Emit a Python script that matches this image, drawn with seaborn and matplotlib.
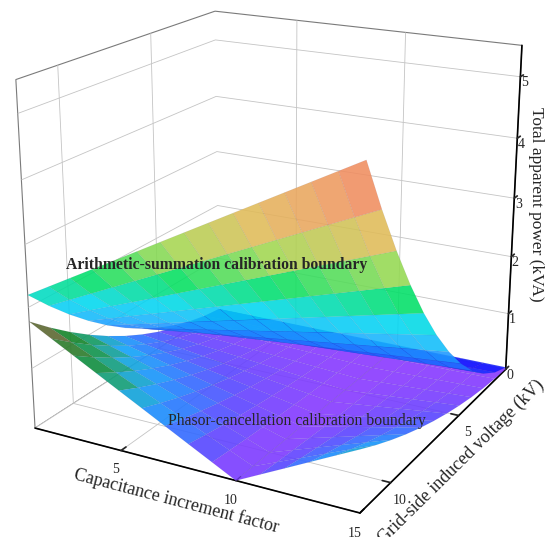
import numpy as np
import pandas as pd
import seaborn as sns
import matplotlib
matplotlib.use("Agg")
import matplotlib.pyplot as plt
from matplotlib.colors import Normalize

# ---------------- data ----------------
k_values = [1, 2, 3, 4, 5, 6, 7, 8, 9, 10, 11, 12, 13, 14, 15]          # capacitance increment factor
voltage_values = [1, 2, 3, 4, 5, 6, 7, 8, 9, 10, 11, 12]                 # grid-side induced voltage (kV)

# Arithmetic-summation boundary, rows = voltage, cols = k  (kVA)
arith_power = [
    [0.015, 0.017, 0.018, 0.020, 0.021, 0.022, 0.024, 0.025, 0.027, 0.028, 0.030, 0.031, 0.033, 0.034, 0.035],
    [0.061, 0.067, 0.073, 0.078, 0.084, 0.090, 0.096, 0.101, 0.107, 0.113, 0.119, 0.125, 0.130, 0.136, 0.142],
    [0.137, 0.150, 0.163, 0.176, 0.189, 0.202, 0.215, 0.228, 0.241, 0.254, 0.267, 0.280, 0.293, 0.306, 0.319],
    [0.244, 0.267, 0.290, 0.313, 0.336, 0.359, 0.382, 0.405, 0.428, 0.451, 0.474, 0.497, 0.520, 0.543, 0.566],
    [0.382, 0.418, 0.454, 0.490, 0.526, 0.562, 0.598, 0.634, 0.670, 0.706, 0.742, 0.778, 0.814, 0.850, 0.886],
    [0.550, 0.602, 0.653, 0.705, 0.757, 0.809, 0.861, 0.912, 0.964, 1.016, 1.068, 1.119, 1.171, 1.223, 1.275],
    [0.748, 0.819, 0.889, 0.960, 1.030, 1.101, 1.171, 1.242, 1.312, 1.383, 1.453, 1.524, 1.594, 1.665, 1.735],
    [0.977, 1.069, 1.161, 1.253, 1.345, 1.437, 1.529, 1.621, 1.713, 1.805, 1.897, 1.989, 2.081, 2.173, 2.265],
    [1.237, 1.353, 1.470, 1.586, 1.703, 1.819, 1.936, 2.052, 2.169, 2.285, 2.402, 2.518, 2.635, 2.751, 2.868],
    [1.527, 1.671, 1.815, 1.958, 2.102, 2.246, 2.390, 2.534, 2.677, 2.821, 2.965, 3.109, 3.253, 3.396, 3.540],
    [1.848, 2.022, 2.196, 2.370, 2.544, 2.718, 2.892, 3.066, 3.240, 3.414, 3.588, 3.762, 3.936, 4.110, 4.284],
    [2.199, 2.406, 2.613, 2.820, 3.027, 3.234, 3.442, 3.649, 3.856, 4.063, 4.270, 4.477, 4.684, 4.891, 5.098],
]

# Phasor-cancellation boundary, rows = voltage, cols = k  (kVA)
phasor_power = [
    [0.012, 0.011, 0.010, 0.008, 0.007, 0.005, 0.004, 0.003, 0.001, 0.0, 0.001, 0.003, 0.004, 0.005, 0.007],
    [0.049, 0.044, 0.038, 0.033, 0.027, 0.022, 0.016, 0.011, 0.005, 0.0, 0.005, 0.011, 0.016, 0.022, 0.027],
    [0.111, 0.098, 0.086, 0.074, 0.061, 0.049, 0.037, 0.025, 0.012, 0.0, 0.012, 0.025, 0.037, 0.049, 0.061],
    [0.197, 0.175, 0.153, 0.131, 0.109, 0.087, 0.066, 0.044, 0.022, 0.0, 0.022, 0.044, 0.066, 0.087, 0.109],
    [0.307, 0.273, 0.239, 0.205, 0.171, 0.137, 0.102, 0.068, 0.034, 0.0, 0.034, 0.068, 0.102, 0.137, 0.171],
    [0.443, 0.393, 0.344, 0.295, 0.246, 0.197, 0.148, 0.098, 0.049, 0.0, 0.049, 0.098, 0.148, 0.197, 0.246],
    [0.602, 0.535, 0.469, 0.402, 0.335, 0.268, 0.201, 0.134, 0.067, 0.0, 0.067, 0.134, 0.201, 0.268, 0.335],
    [0.787, 0.699, 0.612, 0.524, 0.437, 0.350, 0.262, 0.175, 0.087, 0.0, 0.087, 0.175, 0.262, 0.350, 0.437],
    [0.996, 0.885, 0.775, 0.664, 0.553, 0.443, 0.332, 0.221, 0.111, 0.0, 0.111, 0.221, 0.332, 0.443, 0.553],
    [1.229, 1.092, 0.956, 0.819, 0.683, 0.546, 0.410, 0.273, 0.137, 0.0, 0.137, 0.273, 0.410, 0.546, 0.683],
    [1.487, 1.322, 1.157, 0.992, 0.826, 0.661, 0.496, 0.330, 0.165, 0.0, 0.165, 0.330, 0.496, 0.661, 0.826],
    [1.770, 1.573, 1.377, 1.180, 0.983, 0.787, 0.590, 0.393, 0.197, 0.0, 0.197, 0.393, 0.590, 0.787, 0.983],
]

x_ticks = [5, 10, 15]
y_ticks = [5, 10]
z_ticks = [0, 1, 2, 3, 4, 5]

label_x = "Capacitance increment factor"
label_y = "Grid-side induced voltage (kV)"
label_z = "Total apparent power (kVA)"
label_arith = "Arithmetic-summation calibration boundary"
label_phasor = "Phasor-cancellation calibration boundary"

# ---------------- style ----------------
sns.set_theme(style="white", rc={"grid.color": "#c4c4c4", "grid.linewidth": 0.6})
plt.rcParams["font.family"] = ["Liberation Serif", "DejaVu Serif"]

upper_cmap = sns.blend_palette(
    ["#1010ff", "#2468ff", "#18b0ff", "#00d8f0", "#00e060", "#a0d850",
     "#e0bc58", "#ee9860", "#f8645a"], as_cmap=True)
lower_cmap = sns.blend_palette(
    ["#8a38ff", "#5a44ff", "#2874ff", "#10a4f8", "#109c6c", "#0e8628",
     "#5c6a30", "#6a5040"], as_cmap=True)

X, Y = np.meshgrid(np.array(k_values, float), np.array(voltage_values, float))
Zu = np.array(arith_power)
Zl = np.array(phasor_power)

fig = plt.figure(figsize=(5.5, 5.37), dpi=100)
ax = fig.add_axes([-0.066, -0.014, 1.12, 1.12], projection="3d", computed_zorder=False)
ax.view_init(elev=19.3, azim=-61.4)
ax.set_proj_type("persp", focal_length=0.5)
ax.set_box_aspect((1, 1, 0.99), zoom=1.0)

ax.plot_surface(X, Y, Zl, cmap=lower_cmap, norm=Normalize(0, Zl.max()),
                rstride=1, cstride=1, linewidth=0.3, edgecolor=(0.2, 0.2, 0.45, 0.12),
                antialiased=True, alpha=0.9, zorder=2)
ax.plot_surface(X, Y, Zu, cmap=upper_cmap, norm=Normalize(0, Zu.max()),
                rstride=1, cstride=1, linewidth=0.3, edgecolor=(0.2, 0.2, 0.45, 0.12),
                antialiased=True, alpha=0.88, zorder=3)

ax.set_xlim(1, 15)
ax.set_ylim(12, 1)
ax.set_zlim(0, 5.5)
ax.set_xticks(x_ticks)
ax.set_yticks(y_ticks)
ax.set_zticks(z_ticks)

for axis in (ax.xaxis, ax.yaxis, ax.zaxis):
    axis.set_pane_color((1, 1, 1, 1))
    axis.pane.set_edgecolor("#7a7a7a")
    axis.pane.set_linewidth(0.8)
    axis.line.set_color("black")
    axis.line.set_linewidth(1.2)
    axis._axinfo["grid"]["color"] = "#c4c4c4"
    axis._axinfo["grid"]["linewidth"] = 0.6
    axis._axinfo["tick"]["inward_factor"] = 0.0
    axis._axinfo["tick"]["outward_factor"] = 0.3

ax.zaxis.set_ticks_position("lower")
ax.zaxis.set_label_position("lower")
ax.tick_params(axis="both", labelsize=10, pad=-2)
ax.tick_params(axis="z", labelsize=10, pad=-6)

ax.set_xlabel(label_x, fontsize=13, labelpad=-6)
ax.set_ylabel(label_y, fontsize=13, labelpad=-6)
ax.set_zlabel("")
fig.text(0.975, 0.62, label_z, rotation=270, fontsize=12.5, ha="center", va="center")

fig.text(0.393, 0.507, label_arith, fontsize=11.3, fontweight="bold", ha="center", va="center", zorder=10)
fig.text(0.539, 0.216, label_phasor, fontsize=11.3, ha="center", va="center", zorder=10)

fig.savefig("out.png", dpi=100)
